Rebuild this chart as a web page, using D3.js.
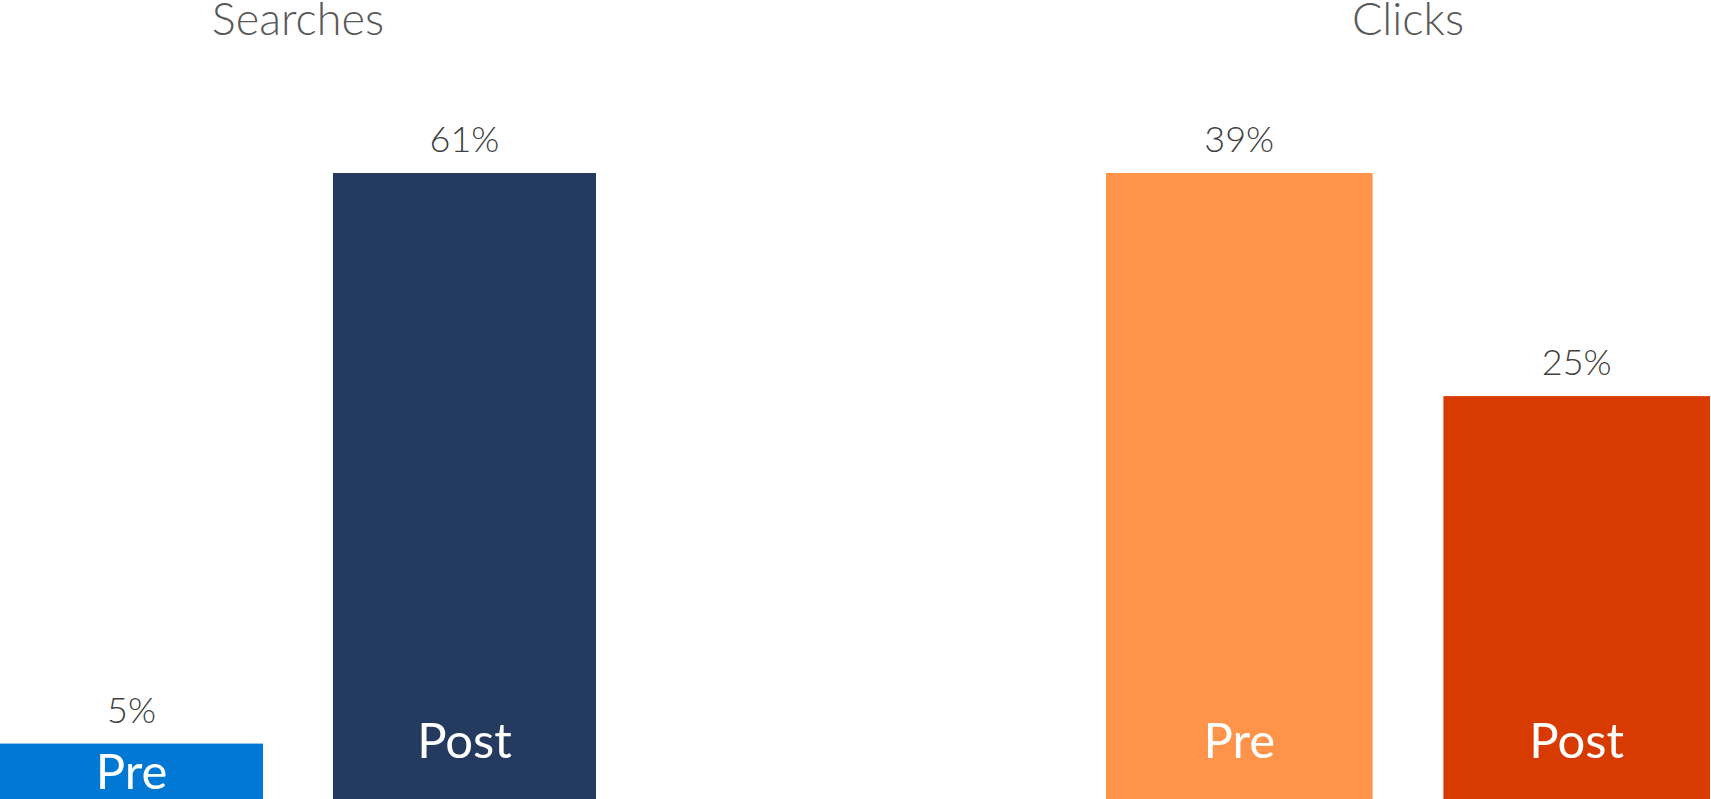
<!DOCTYPE html>
<html>
<head>
<meta charset="utf-8">
<script src="https://cdn.jsdelivr.net/npm/d3@7/dist/d3.min.js"></script>
<style>
  html, body { margin: 0; padding: 0; background: #fff; overflow: hidden; }
  svg { display: block; }
</style>
</head>
<body>
<svg id="chart" width="1711" height="799"></svg>
<script>
// ---- data ----
const panels = ["Searches", "Clicks"];
const categories = ["Pre", "Post"];
const searchesValues = [5.4, 61];
const clicksValues = [39, 25.1];
const searchesColors = ["#0078D4", "#243A5E"];
const clicksColors = ["#FF9349", "#D83B01"];

// ---- layout ----
const plotBottom = 799, plotTop = 173;
const panelRanges = [[0, 596], [1106, 1710]];
const font = "Lato, 'Open Sans', sans-serif";

const svg = d3.select("#chart");
const fmt = v => d3.format(".0f")(v) + "%";

const panelData = [
  { name: panels[0], values: searchesValues, colors: searchesColors },
  { name: panels[1], values: clicksValues, colors: clicksColors }
];

panelData.forEach((p, i) => {
  const x = d3.scaleBand().domain(categories).range(panelRanges[i]).paddingInner(0.21).paddingOuter(0);
  const y = d3.scaleLinear().domain([0, d3.max(p.values)]).range([plotBottom, plotTop]);
  const rows = categories.map((c, j) => ({ cat: c, value: p.values[j], color: p.colors[j] }));
  const g = svg.append("g");

  g.append("text")
    .attr("x", (panelRanges[i][0] + panelRanges[i][1]) / 2)
    .attr("y", 35)
    .attr("text-anchor", "middle")
    .attr("font-family", font)
    .attr("font-weight", 300)
    .attr("font-size", 45)
    .attr("fill", "#595959")
    .text(p.name);

  g.selectAll("rect").data(rows).join("rect")
    .attr("x", d => x(d.cat))
    .attr("y", d => y(d.value))
    .attr("width", x.bandwidth())
    .attr("height", d => plotBottom - y(d.value))
    .attr("fill", d => d.color);

  g.selectAll("text.val").data(rows).join("text")
    .attr("class", "val")
    .attr("x", d => x(d.cat) + x.bandwidth() / 2)
    .attr("y", d => y(d.value) - 21)
    .attr("text-anchor", "middle")
    .attr("font-family", font)
    .attr("font-weight", 300)
    .attr("font-size", 36)
    .attr("fill", "#404040")
    .text(d => fmt(d.value));

  g.selectAll("text.cat").data(rows).join("text")
    .attr("class", "cat")
    .attr("x", d => x(d.cat) + x.bandwidth() / 2)
    .attr("y", d => Math.max(plotBottom - 58.5, (y(d.value) + plotBottom) / 2))
    .attr("dy", "0.36em")
    .attr("text-anchor", "middle")
    .attr("font-family", font)
    .attr("font-weight", 400)
    .attr("font-size", 49)
    .attr("fill", "#ffffff")
    .text(d => d.cat);
});
</script>
</body>
</html>
